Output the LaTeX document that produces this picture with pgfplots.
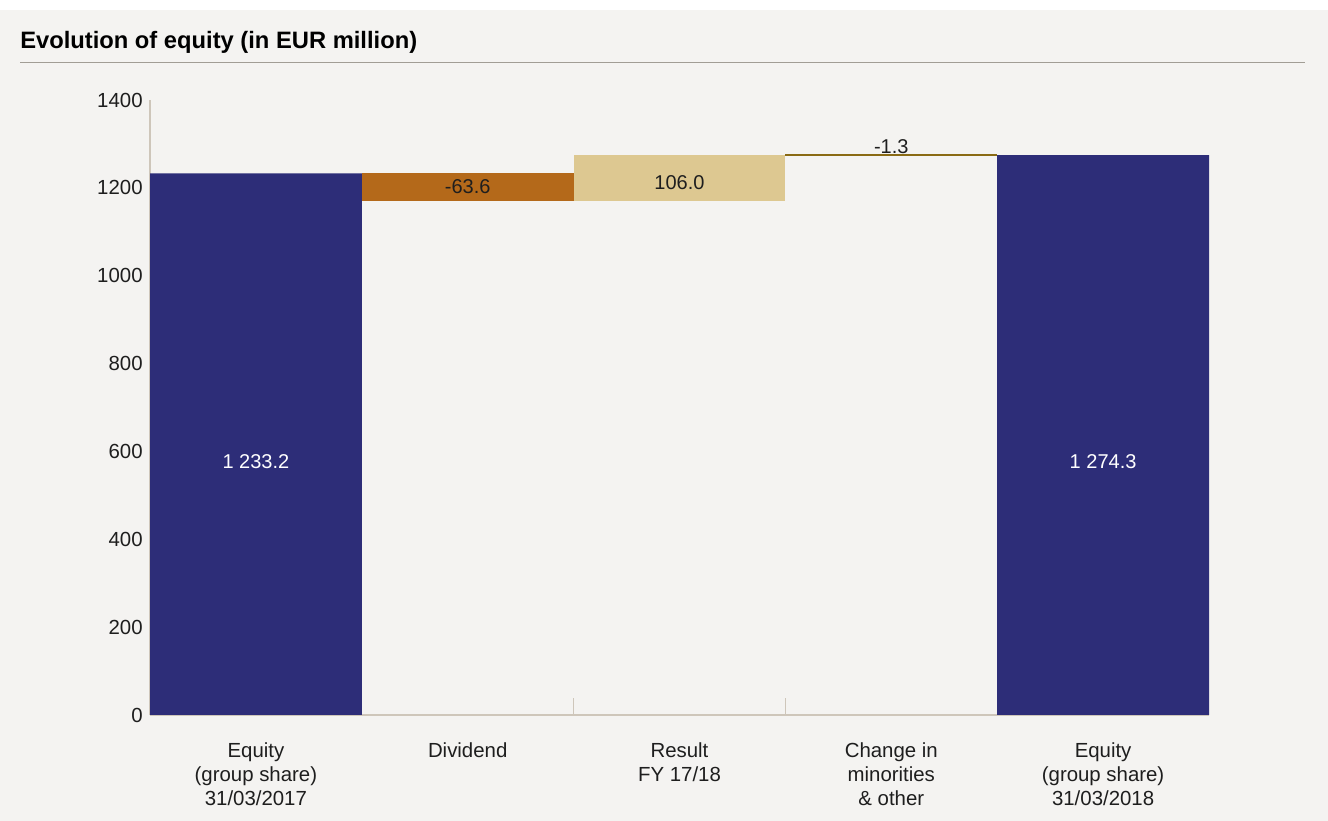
\documentclass[border=0pt]{standalone}
\usepackage{fontspec}
\setmainfont{Liberation Sans}
\usepackage{pgfplots}
\pgfplotsset{compat=1.18}
\definecolor{bg}{HTML}{F4F3F1}
\definecolor{navy}{HTML}{2D2D78}
\definecolor{divor}{HTML}{B4691A}
\definecolor{restan}{HTML}{DDC891}
\definecolor{olivec}{HTML}{8A6A14}
\definecolor{axcol}{HTML}{CEC6BA}
\definecolor{rulecol}{HTML}{A19D95}
\definecolor{txt}{HTML}{1E1E1E}
\begin{document}
\begin{tikzpicture}
\fill[bg] (0,0) rectangle (996pt,615.75pt);
\fill[white] (0,608.25pt) rectangle (996pt,615.75pt);
\node[anchor=west, font=\fontsize{17.8}{21}\selectfont\bfseries, inner sep=0, text=black] at (15pt,584.25pt) {Evolution of equity (in EUR million)};
\draw[rulecol, line width=0.75pt] (15pt,568.5pt) -- (978.75pt,568.5pt);
\pgfplotsset{common/.style={
  at={(112.5pt,79.5pt)}, anchor=south west,
  scale only axis, width=794.25pt, height=461.25pt,
  xmin=-0.5, xmax=4.5, ymin=0, ymax=1400,
}}
\begin{axis}[common,
  ybar stacked, bar width=1,
  axis x line*=bottom, axis y line*=left,
  axis line style={axcol, line width=0.9pt, -},
  ytick={0,200,...,1400},
  xtick={0,1,2,3,4},
  xticklabels={{Equity\\(group share)\\31/03/2017},{Dividend},{Result\\FY 17/18},{Change in\\minorities\\\& other},{Equity\\(group share)\\31/03/2018}},
  major tick length=0pt,
  tick label style={font=\fontsize{15.3}{18}\selectfont, text=txt},
  yticklabel style={xshift=-2pt},
  xticklabel style={align=center, anchor=north, yshift=-17.5pt},
  extra x ticks={0.5,1.5,2.5,3.5},
  extra x tick labels={},
  extra x tick style={major tick length=12.75pt, tick align=inside, tick style={axcol, line width=0.9pt}},
  /pgf/number format/1000 sep={},
  /pgf/number format/assume math mode=true,
]
\addplot[draw=none, fill=none] coordinates {(0,0) (1,1169.6) (2,1169.6) (3,0) (4,0)};
\addplot[draw=none, fill=navy] coordinates {(0,1233.2) (1,0) (2,0) (3,0) (4,1274.3)};
\addplot[draw=none, fill=divor] coordinates {(0,0) (1,63.6) (2,0) (3,0) (4,0)};
\addplot[draw=none, fill=restan] coordinates {(0,0) (1,0) (2,106.0) (3,0) (4,0)};
\end{axis}
\begin{axis}[common, hide axis, clip=false]
\addplot[olivec, line width=1.5pt] coordinates {(2.5,1274.95) (3.5,1274.95)};
\addplot[only marks, mark=*, mark size=0pt, mark options={draw=none, fill=none},
  nodes near coords, point meta=explicit symbolic,
  nodes near coords style={anchor=center, text=white, font=\fontsize{15}{18}\selectfont}]
  coordinates {(0,576)[1 233.2] (4,576)[1 274.3]};
\addplot[only marks, mark=*, mark size=0pt, mark options={draw=none, fill=none},
  nodes near coords, point meta=explicit symbolic,
  nodes near coords style={anchor=center, text=txt, font=\fontsize{15}{18}\selectfont}]
  coordinates {(1,1202)[-63.6] (2,1211)[106.0] (3,1295)[-1.3]};
\end{axis}
\end{tikzpicture}
\end{document}
